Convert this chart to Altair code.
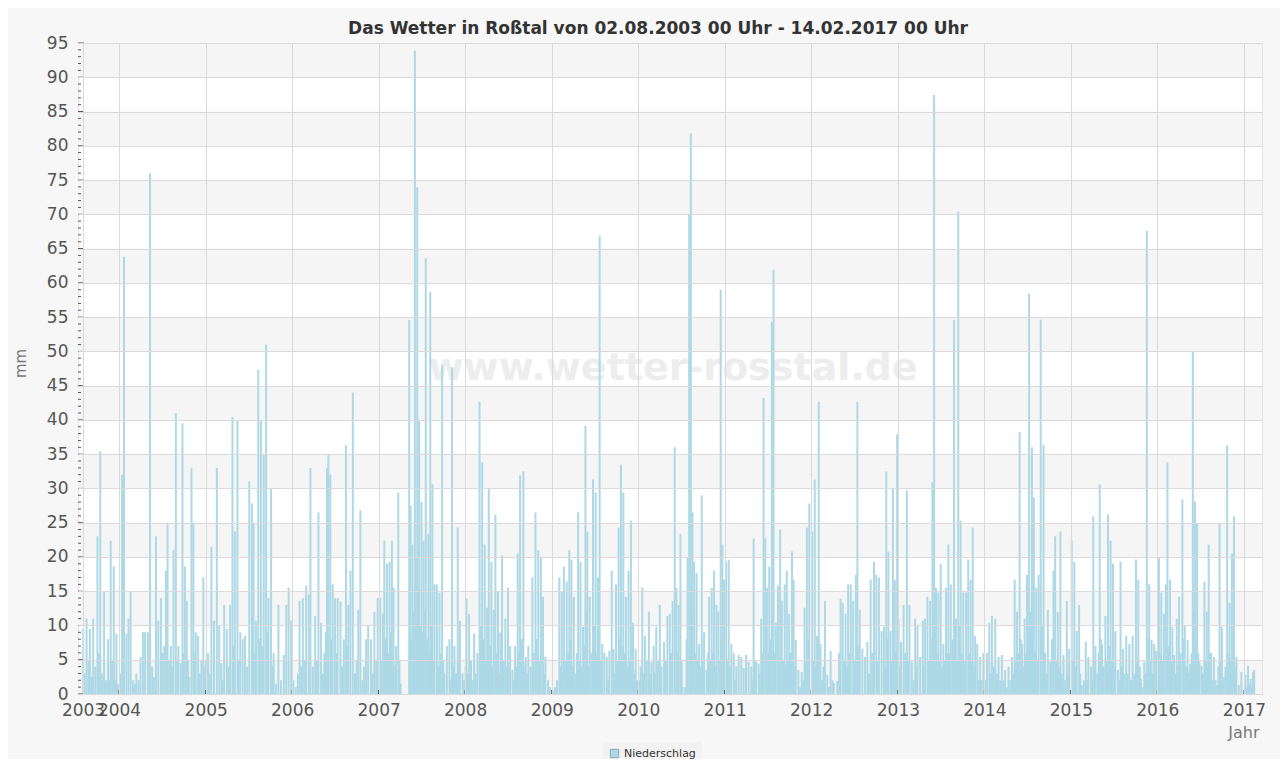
import altair as alt
import pandas as pd

# Daily precipitation (mm) per year: (day offset within the year, value)
rain_2003 = [(214, 9.5), (220, 3), (228, 11), (236, 5), (242, 9.5), (249, 2.5), (256, 11), (265, 4),
             (274, 23), (280, 6), (286, 35.4), (294, 3), (302, 15), (310, 2), (319, 8), (324, 2),
             (330, 22.4), (336, 5), (343, 18.6), (348, 2), (354, 8.8), (360, 1.5)]
rain_2004 = [(5, 3), (13, 32), (21, 63.8), (31, 8.8), (40, 11), (49, 15), (59, 2), (66, 1.5), (73, 3),
             (82, 2), (91, 5.4), (101, 9), (110, 9), (122, 9), (131, 76), (140, 4), (147, 2.5), (156, 23),
             (166, 10.7), (177, 14), (184, 6), (191, 7), (198, 18), (205, 25), (212, 5), (219, 7), (225, 4),
             (230, 21), (240, 41), (246, 5), (251, 7), (261, 4.5), (268, 39.5), (273, 6), (278, 18.6),
             (286, 13.6), (291, 5), (296, 2.5), (306, 33), (314, 25), (319, 6), (324, 9), (334, 8.5),
             (341, 3), (348, 5), (356, 17), (362, 4)]
rain_2005 = [(2, 5), (10, 6), (17, 3), (24, 21.5), (35, 10.7), (47, 33), (57, 10), (66, 4.5), (72, 2),
             (78, 13), (89, 9.5), (96, 4), (103, 13), (113, 40.4), (118, 7), (123, 23.7), (134, 40),
             (140, 5), (146, 9), (156, 8), (166, 8.5), (175, 4), (184, 31), (195, 27.8), (202, 25),
             (207, 6), (212, 10.7), (222, 47.3), (228, 8), (233, 40), (240, 7), (245, 35), (255, 51),
             (260, 9), (265, 14), (276, 30), (282, 4), (287, 6), (297, 1.5), (307, 13), (318, 2),
             (330, 5.7), (340, 13), (350, 15.5), (361, 10.7)]
rain_2006 = [(5, 2), (15, 1), (24, 3), (31, 13.6), (38, 4), (45, 14), (52, 5), (59, 15.8), (70, 14.5),
             (77, 33), (87, 4), (97, 11.4), (104, 5), (111, 26.5), (122, 10.4), (130, 3), (136, 6),
             (142, 9), (147, 33), (153, 35), (161, 32), (166, 8), (171, 16), (181, 14), (187, 6),
             (192, 14), (204, 13.5), (211, 4), (218, 8), (227, 36.3), (232, 7), (237, 13), (246, 18),
             (256, 44), (265, 3), (272, 5), (279, 12.3), (288, 26.8), (296, 2), (304, 4), (312, 8),
             (321, 10), (333, 8), (340, 3), (347, 12), (355, 5), (361, 14)]
rain_2007 = [(7, 14), (13, 5), (18, 11.7), (24, 22.4), (30, 8), (35, 19), (41, 6), (46, 19.3), (51, 9),
             (56, 22.4), (63, 15.5), (68, 4), (74, 7), (83, 29.4), (88, 5), (93, 1.5), (129, 54.6),
             (135, 27.5), (140, 8), (143, 21.8), (148, 12), (153, 93.9), (158, 20), (163, 73.9),
             (167, 15), (171, 40), (176, 10), (181, 28), (186, 9), (190, 22.4), (195, 12), (199, 63.6),
             (204, 8), (210, 23.4), (214, 6), (218, 58.7), (223, 10), (227, 30.6), (232, 5), (236, 16),
             (246, 16), (251, 4), (257, 14.8), (262, 6), (268, 48), (273, 5), (278, 3), (288, 7),
             (299, 8), (305, 2), (310, 47.7), (315, 4), (320, 7), (327, 3), (334, 24.3), (338, 5),
             (343, 10.7), (354, 3), (360, 2)]
rain_2008 = [(2, 4), (6, 14), (12, 3), (17, 11.7), (25, 5), (31, 2), (38, 8.8), (45, 3), (52, 6),
             (61, 42.6), (67, 10), (72, 33.8), (78, 8), (83, 21.8), (88, 5), (93, 12.6), (100, 30),
             (106, 7), (111, 19.3), (116, 4), (121, 12.3), (128, 26.2), (134, 6), (139, 15), (144, 3),
             (149, 9), (156, 20.2), (163, 5), (170, 11), (176, 4), (181, 15.5), (190, 7), (200, 3.5),
             (205, 2), (211, 7), (216, 4), (222, 20.5), (227, 6), (232, 31.9), (240, 8), (246, 32.5),
             (251, 4), (256, 5.4), (262, 3), (267, 7), (276, 4), (284, 17), (290, 6), (297, 26.5),
             (303, 8), (309, 21), (315, 5), (320, 19.9), (329, 14.2), (334, 3), (339, 5.4), (350, 2),
             (358, 1)]
rain_2009 = [(5, 0.5), (14, 1), (22, 2), (32, 17), (37, 4), (42, 15), (47, 3), (51, 18.6), (57, 5),
             (63, 16.4), (68, 6), (74, 21), (79, 8), (83, 19.6), (88, 4), (93, 14.2), (100, 3), (106, 6),
             (111, 26.5), (116, 5), (121, 19.3), (126, 4), (132, 9.8), (137, 7), (142, 39.1), (146, 12),
             (150, 23.7), (155, 4), (160, 14.2), (167, 6), (174, 31.3), (180, 10), (185, 29.4), (190, 6),
             (195, 17), (202, 66.9), (207, 5), (213, 7.3), (222, 6), (232, 5.4), (238, 2), (243, 6.3),
             (253, 18), (260, 6.6), (266, 3), (271, 16), (276, 5), (282, 24.3), (287, 8), (292, 33.5),
             (297, 7), (302, 29.4), (308, 6), (313, 14.2), (318, 4), (324, 18), (329, 5), (334, 25.3),
             (339, 4), (343, 10.4), (349, 3), (354, 6.6), (360, 2)]
rain_2010 = [(3, 2), (10, 4), (17, 15.5), (22, 3), (28, 8.5), (36, 5), (45, 12), (50, 3), (56, 4.7),
             (65, 7), (70, 3), (76, 9.8), (84, 5), (91, 13), (98, 4), (109, 7.6), (116, 5), (123, 11.4),
             (133, 11.7), (139, 6), (145, 13.6), (154, 36), (161, 15.5), (166, 6), (170, 13), (178, 23.4),
             (183, 5), (187, 1), (198, 1), (204, 8), (208, 19.9), (215, 70), (219, 20), (222, 81.8),
             (226, 12), (229, 26.5), (236, 19.3), (241, 6), (246, 17.7), (252, 5), (257, 7.3), (263, 4),
             (268, 29), (273, 5), (278, 9), (289, 3.5), (294, 6), (299, 14.2), (305, 5), (310, 15.5),
             (315, 6), (320, 18), (325, 4), (330, 13), (338, 12), (343, 5), (348, 59), (352, 8),
             (355, 21.8), (362, 16.7)]
rain_2011 = [(6, 19.3), (12, 5), (17, 19.6), (22, 4), (28, 7.3), (38, 6), (44, 2), (49, 4), (59, 5.7),
             (70, 5.4), (80, 3.8), (90, 5.7), (101, 4.7), (112, 4), (117, 2), (122, 22.7), (127, 5),
             (132, 4.7), (143, 4.4), (148, 3), (154, 11), (160, 6), (164, 43.2), (171, 22.7), (178, 15.5),
             (183, 6), (188, 18.6), (194, 8), (199, 54.3), (206, 61.9), (211, 6), (216, 10.4), (225, 15.8),
             (230, 5), (234, 24), (241, 13.6), (247, 5), (253, 16), (258, 4), (262, 18), (267, 5),
             (272, 11.7), (278, 6), (284, 20.8), (291, 16.7), (296, 4), (300, 7.9), (311, 3.5), (318, 1),
             (325, 3.2), (331, 2), (337, 12.6), (342, 5), (347, 24.3), (352, 8), (357, 27.8)]
rain_2012 = [(4, 23.7), (10, 5), (15, 31.3), (20, 4), (25, 8.5), (32, 42.6), (39, 7.3), (46, 2), (52, 4),
             (58, 13.6), (68, 2.8), (75, 1), (82, 6.3), (90, 2), (96, 1.6), (110, 1.9), (118, 6),
             (124, 13.9), (133, 13.3), (139, 5), (145, 11.7), (151, 4), (156, 16), (162, 6), (167, 16),
             (177, 13.6), (183, 5), (189, 17.4), (195, 42.6), (200, 7), (205, 12.3), (216, 6.6),
             (227, 5.4), (237, 7.6), (244, 3), (251, 16.7), (258, 6), (265, 19.3), (275, 17.4), (280, 5),
             (286, 17), (297, 9.2), (307, 9.8), (312, 4), (317, 32.5), (321, 8), (326, 20.8), (335, 9.2),
             (340, 5), (345, 30), (353, 16.7), (358, 6), (363, 37.9)]
rain_2013 = [(3, 11), (8, 4), (13, 7.6), (24, 13), (31, 6), (38, 29.7), (44, 5), (49, 13), (59, 4.7),
             (66, 2), (73, 11), (78, 4), (83, 10), (94, 5.4), (105, 10.7), (110, 4), (115, 11), (125, 14.2),
             (130, 5), (136, 13.6), (141, 8), (146, 30.9), (150, 12), (153, 87.4), (157, 10), (161, 15.5),
             (166, 6), (171, 14.8), (176, 5), (181, 19), (186, 4), (192, 7.3), (197, 5), (203, 15.5),
             (208, 6), (213, 21.8), (218, 6), (223, 16), (230, 8), (237, 54.6), (241, 9), (245, 11),
             (250, 5), (255, 70.4), (260, 10), (265, 25.3), (270, 6), (276, 14.8), (282, 5), (288, 14.8),
             (297, 19.6), (302, 6), (307, 16.7), (312, 5), (316, 24.3), (321, 4), (326, 8.5), (335, 7.3),
             (341, 2), (347, 5.4), (354, 2), (361, 6)]
rain_2014 = [(4, 2), (11, 6), (21, 10.4), (26, 3), (32, 11.4), (39, 4), (46, 11), (53, 3), (60, 5.4),
             (67, 2), (74, 5.7), (81, 2), (88, 3.5), (95, 1), (102, 4), (110, 2), (117, 5.4), (122, 3),
             (128, 16.7), (133, 5), (138, 12), (143, 6), (149, 38.2), (154, 8), (159, 7.3), (164, 4),
             (170, 11), (175, 6), (180, 17.4), (185, 9), (189, 58.4), (195, 12), (201, 36), (205, 8),
             (209, 28.7), (214, 6), (219, 15.5), (224, 5), (229, 17.4), (238, 54.6), (244, 10),
             (250, 36.3), (256, 6), (262, 3), (268, 12.3), (278, 4.7), (285, 8), (292, 18), (299, 23),
             (305, 5), (310, 12), (315, 4), (321, 23.7), (327, 3), (334, 5.7), (341, 2), (348, 13.6),
             (353, 3), (358, 6.6)]
rain_2015 = [(4, 22.4), (10, 5), (15, 19.3), (20, 4), (25, 9.2), (35, 13), (40, 3), (46, 1.3), (55, 2),
             (63, 7.6), (68, 2), (74, 5.4), (85, 4), (90, 2), (95, 25.9), (100, 5), (104, 7), (112, 3),
             (118, 6), (122, 30.6), (127, 8), (132, 7.3), (139, 4), (146, 11.4), (151, 5), (157, 26.2),
             (162, 7), (168, 22.4), (173, 5), (178, 19), (183, 4), (188, 9.2), (199, 3.5), (205, 2),
             (210, 19.3), (215, 4), (220, 6.6), (227, 3), (234, 8.5), (240, 3), (247, 7.3), (254, 2),
             (261, 8.5), (268, 3), (275, 19.6), (280, 5), (285, 16.7), (291, 4), (296, 2.2), (303, 1),
             (310, 4.7), (316, 3), (321, 67.6), (326, 8), (331, 16), (336, 5), (341, 7.9), (347, 3),
             (352, 7.3), (360, 6.3)]
rain_2016 = [(3, 5), (7, 19.9), (12, 6), (17, 14.8), (22, 5), (28, 11.7), (36, 16), (43, 33.8), (49, 7),
             (54, 16.7), (59, 5), (64, 9.8), (71, 5.7), (77, 3), (82, 11), (87, 4), (92, 14.2), (98, 6),
             (106, 28.4), (111, 8), (116, 10), (122, 4), (128, 7.9), (134, 3), (139, 4.4), (145, 6),
             (150, 49.9), (155, 12), (159, 28.1), (163, 8), (168, 24.9), (173, 6), (178, 4.7), (187, 4.1),
             (193, 3), (199, 16.4), (204, 5), (209, 12), (213, 4), (217, 21.8), (222, 6), (227, 6),
             (233, 2), (239, 5.4), (246, 2), (253, 1.3), (258, 4), (263, 24.9), (268, 5), (273, 9.8),
             (281, 2.5), (288, 4), (295, 36.3), (300, 6), (305, 13.3), (310, 5), (315, 20.5), (320, 6),
             (324, 25.9), (329, 4), (334, 5.4), (344, 1.3), (355, 3.2)]
rain_2017 = [(6, 2.8), (12, 1), (17, 4.1), (22, 1.5), (28, 2.2), (34, 1), (38, 3.2), (43, 3.5)]

years = list(range(2003, 2018))
series = [rain_2003, rain_2004, rain_2005, rain_2006, rain_2007, rain_2008, rain_2009, rain_2010,
          rain_2011, rain_2012, rain_2013, rain_2014, rain_2015, rain_2016, rain_2017]

rows = []
for yr, s in zip(years, series):
    base = pd.Timestamp(year=yr, month=1, day=1)
    for d, v in s:
        rows.append({"datum": (base + pd.Timedelta(days=d)).strftime("%Y-%m-%dT00:00:00"),
                     "mm": v, "serie": "Niederschlag"})
df = pd.DataFrame(rows)

band_lo = list(range(0, 95, 10))
bands = pd.DataFrame({"lo": band_lo, "hi": [b + 5 for b in band_lo]})
yticks = pd.DataFrame({"v": list(range(0, 96))})
yticks["major"] = yticks["v"] % 5 == 0
xticks = pd.DataFrame({"datum": [f"{y}-01-01T00:00:00" for y in range(2004, 2018)]})

W, H = 1184, 651
FONT = "DejaVu Sans"

x_values = [alt.DateTime(year=2003, month=8, date=2)] + [alt.DateTime(year=y, month=1, date=1) for y in range(2004, 2018)]
x_scale = alt.Scale(domain=[alt.DateTime(year=2003, month=8, date=2), alt.DateTime(year=2017, month=2, date=25)])
y_scale = alt.Scale(domain=[0, 95], nice=False, zero=True)

x_axis = alt.Axis(values=x_values, format="%Y", labelOverlap=False, labelFlush=False,
                  labelFontSize=17, labelColor="#555", labelFont=FONT, labelPadding=8,
                  ticks=False, domain=False, grid=True, gridColor="#dadada", zindex=1,
                  title="Jahr", titleFont=FONT, titleFontSize=16, titleFontWeight="normal",
                  titleColor="#777", titleAlign="right", titleAnchor="end", titleX=1181, titleY=38,
                  titleBaseline="middle")
y_axis = alt.Axis(values=list(range(0, 96, 5)), labelFontSize=17, labelColor="#555", labelFont=FONT,
                  labelPadding=10, ticks=False, domain=False, grid=True, gridColor="#dadada", zindex=1,
                  title="mm", titleFont=FONT, titleFontSize=15, titleFontWeight="normal", titleColor="#777",
                  titleAngle=270, titleX=-58, titleY=320, titleAlign="center", titleBaseline="middle")

band_layer = alt.Chart(bands).mark_rect(color="#f5f5f5").encode(
    x=alt.value(0), x2=alt.value(W),
    y=alt.Y("lo:Q", scale=y_scale, axis=y_axis), y2="hi:Q")

watermark = alt.Chart(pd.DataFrame({"t": ["www.wetter-rosstal.de"]})).mark_text(
    font=FONT, fontSize=38, fontWeight="bold", color="#ededed", align="center", baseline="middle"
).encode(text="t:N", x=alt.value(595), y=alt.value(326))

bars = alt.Chart(df).mark_bar(size=2).encode(
    x=alt.X("datum:T", scale=x_scale, axis=x_axis),
    y=alt.Y("mm:Q", scale=y_scale, axis=y_axis),
    color=alt.Color("serie:N", scale=alt.Scale(range=["#add8e6"]),
                    legend=alt.Legend(title=None, orient="none", legendX=525, legendY=699,
                                      symbolType="square", symbolSize=70, symbolStrokeColor="#8aa",
                                      symbolStrokeWidth=1, labelFont=FONT, labelFontSize=11,
                                      labelColor="#333", fillColor="#f2f2f2", padding=6))
)

minor_ticks = alt.Chart(yticks).transform_filter("!datum.major").mark_rule(color="#555").encode(
    y=alt.Y("v:Q", scale=y_scale, axis=y_axis), x=alt.value(0), x2=alt.value(3))
major_ticks = alt.Chart(yticks).transform_filter("datum.major").mark_rule(color="#555").encode(
    y=alt.Y("v:Q", scale=y_scale, axis=y_axis), x=alt.value(0), x2=alt.value(6))
x_ticks = alt.Chart(xticks).mark_rule(color="#444").encode(
    x=alt.X("datum:T", scale=x_scale, axis=x_axis), y=alt.value(H - 4), y2=alt.value(H))

chart = alt.layer(band_layer, watermark, bars, minor_ticks, major_ticks, x_ticks).properties(
    width=W, height=H,
    title=alt.TitleParams("Das Wetter in Roßtal von 02.08.2003 00 Uhr - 14.02.2017 00 Uhr",
                          font=FONT, fontSize=17, fontWeight="bold", color="#333", anchor="middle",
                          offset=6, dx=-12, dy=10),
    autosize=alt.AutoSizeParams(type="none"),
    padding={"left": 70, "top": 35, "right": 18, "bottom": 65},
    background="#f7f7f7",
).configure_view(fill="white", stroke="#e4e4e4")

chart.save("out.html", embed_options={"renderer": "svg", "actions": False})
